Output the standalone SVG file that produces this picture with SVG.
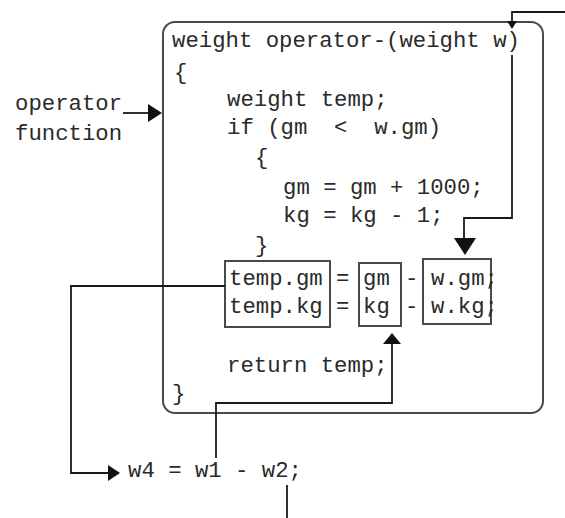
<svg xmlns="http://www.w3.org/2000/svg" width="565" height="518" viewBox="0 0 565 518">
<style>
text{font-family:"Liberation Mono","Courier New",monospace;font-size:22.3px;fill:#2a2a2a;}
.box{fill:none;stroke:#4a4a4a;stroke-width:2;}
.ln{fill:none;stroke:#1a1a1a;stroke-width:1.8;}
.ah{fill:#111;}
</style>
<rect width="565" height="518" fill="#fff"/>
<g id="label">
<text x="15" y="110">operator</text>
<text x="15" y="140">function</text>
</g>
<g id="function">
<rect class="box" x="163" y="22" width="380" height="391" rx="12"/>
<text x="172" y="47">weight operator-(weight w)</text>
<text x="174" y="79">{</text>
<text x="227" y="106">weight temp;</text>
<text x="227" y="134" xml:space="preserve">if (gm  &lt;  w.gm)</text>
<text x="255" y="164">{</text>
<text x="283" y="194">gm = gm + 1000;</text>
<text x="283" y="222">kg = kg - 1;</text>
<text x="255" y="252">}</text>
<text x="227" y="372">return temp;</text>
<text x="172" y="400">}</text>
</g>
<g id="temp">
<rect class="box" x="225" y="261" width="105" height="66"/>
<text x="229" y="285">temp.gm</text>
<text x="229" y="313">temp.kg</text>
</g>
<g id="eq">
<text x="336" y="285">=</text>
<text x="336" y="313">=</text>
</g>
<g id="own">
<rect class="box" x="359" y="263" width="42" height="63"/>
<text x="363" y="285">gm</text>
<text x="363" y="313">kg</text>
</g>
<g id="minus">
<text x="405" y="285">-</text>
<text x="405" y="313">-</text>
</g>
<g id="arg">
<rect class="box" x="423" y="259" width="68" height="65"/>
<text x="431" y="285">w.gm;</text>
<text x="431" y="313">w.kg;</text>
</g>
<g id="call">
<text x="128" y="477">w4 = w1 - w2;</text>
</g>
<g id="connectors">
<path class="ln" d="M123,113 H150"/>
<polygon class="ah" points="148,104 162,113 148,122"/>
<path class="ln" d="M565,12 H512 V22"/>
<polygon class="ah" points="507,21 517,21 512,29"/>
<path class="ln" d="M512,55 V218 H464 V240"/>
<polygon class="ah" points="454,238 476,238 465,255"/>
<path class="ln" d="M225,286 H71 V473 H110"/>
<polygon class="ah" points="108,465 120,473 108,481"/>
<path class="ln" d="M216,458 V403 H392 V342"/>
<polygon class="ah" points="383,344 401,344 392,333"/>
<path class="ln" d="M287,485 V518"/>
</g>
</svg>
